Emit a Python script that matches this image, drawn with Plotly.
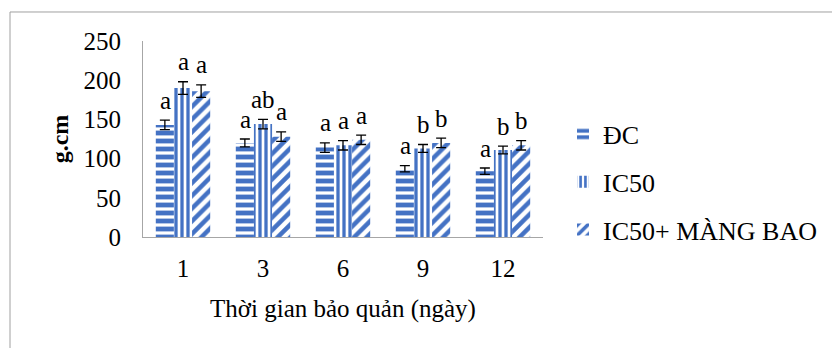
import plotly.graph_objects as go

days = ["1", "3", "6", "9", "12"]
series_names = ["ĐC", "IC50", "IC50+ MÀNG BAO"]
dc_values = [143, 120, 114, 87, 84]
dc_err = [6, 5, 6, 4, 4]
ic50_values = [190, 144, 117, 113, 111]
ic50_err = [8, 6, 6, 5, 5]
mb_values = [186, 128, 124, 120, 117]
mb_err = [8, 6, 6, 6, 6]
dc_letters = ["a", "a", "a", "a", "a"]
ic50_letters = ["a", "ab", "a", "b", "b"]
mb_letters = ["a", "a", "a", "b", "b"]

BLUE = "#4472C4"
FONT = "Liberation Serif, Times New Roman, serif"

fig = go.Figure()
specs = [
    (series_names[0], dc_values, dc_err, "-", 8, 0.6),
    (series_names[1], ic50_values, ic50_err, "|", 6, 0.55),
    (series_names[2], mb_values, mb_err, "/", 9, 0.5),
]
for i, (name, vals, err, shape, size, sol) in enumerate(specs):
    fig.add_trace(go.Bar(
        x=days, y=vals, name=name, legendgroup=name,
        marker=dict(color="white", line=dict(width=0),
                    pattern=dict(shape=shape, fgcolor=BLUE, bgcolor="white",
                                 size=size, solidity=sol, fillmode="replace")),
        error_y=dict(type="data", array=err, color="black", thickness=1.3, width=5),
    ))

letters = [dc_letters, ic50_letters, mb_letters]
vals_all = [dc_values, ic50_values, mb_values]
errs_all = [dc_err, ic50_err, mb_err]
offsets = [-18, 0, 18]
for s in range(3):
    for j in range(len(days)):
        fig.add_annotation(
            x=j, y=vals_all[s][j] + errs_all[s][j], text=letters[s][j],
            showarrow=False, xshift=offsets[s], yshift=20,
            font=dict(family=FONT, size=25, color="black"),
        )

# outer frame
fig.add_shape(type="rect", xref="paper", yref="paper",
              x0=-0.3325, x1=1.8, y0=-0.7, y1=1.148,
              line=dict(color="#a0a0a0", width=1), layer="below")

fig.update_layout(
    width=832, height=340,
    margin=dict(l=135, r=297, t=33, b=111, autoexpand=False),
    paper_bgcolor="white", plot_bgcolor="white",
    barmode="group", bargap=0.32, bargroupgap=0,
    font=dict(family=FONT, size=25, color="black"),
    showlegend=True,
    legend=dict(x=1.05, y=0.28, xanchor="left", yanchor="middle",
                font=dict(family=FONT, size=26), tracegroupgap=11,
                itemwidth=30, bgcolor="rgba(0,0,0,0)"),
    xaxis=dict(type="category", range=[-0.5, 4.5], showline=True,
               linecolor="#a6a6a6", linewidth=1, automargin=False,
               ticks="", showgrid=False, ticklabelstandoff=9,
               title=dict(text="Thời gian bảo quản (ngày)", standoff=18,
                          font=dict(family=FONT, size=25))),
    yaxis=dict(range=[0, 250], dtick=50, showline=True, linecolor="#a6a6a6",
               linewidth=1, ticks="", showgrid=False, ticklabelstandoff=16,
               automargin=False,
               title=dict(text="<b>g.cm</b>", standoff=8,
                          font=dict(family=FONT, size=24))),
)

fig.write_html("out.html")
